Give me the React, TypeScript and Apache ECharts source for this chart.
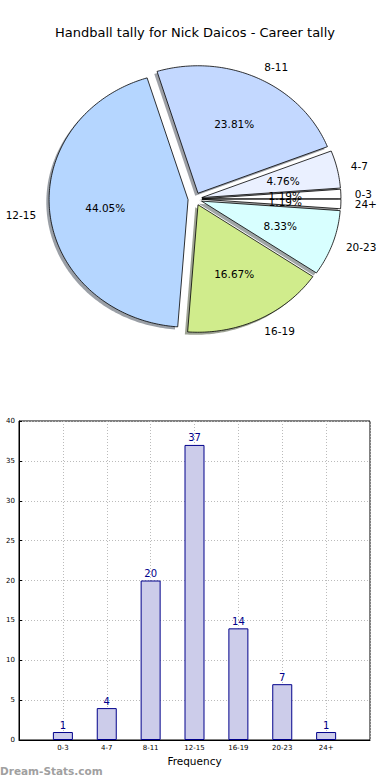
import React, { useEffect, useRef } from "react";
import * as echarts from "echarts";

const title = "Handball tally for Nick Daicos - Career tally";
const categories = ["0-3", "4-7", "8-11", "12-15", "16-19", "20-23", "24+"];
const handballs = [1, 4, 20, 37, 14, 7, 1];
const sliceColors = ["#ffffff", "#eaf0ff", "#c3d8ff", "#b5d6ff", "#d0ec8c", "#d8ffff", "#ffffff"];
const yTicks = [0, 5, 10, 15, 20, 25, 30, 35, 40];
const xAxisName = "Frequency";
const watermark = "Dream-Stats.com";

const FONT = "DejaVu Sans";

export default function App() {
  const ref = useRef<HTMLDivElement>(null);
  useEffect(() => {
    const chart = echarts.init(ref.current!, null, { renderer: "svg" });
    const total = handballs.reduce((a, b) => a + b, 0);
    const starts: number[] = [];
    let acc = 0;
    handballs.forEach((v) => {
      starts.push(acc);
      acc += v;
    });
    // pie geometry (elliptical, matplotlib style)
    const cx = 195, cy = 199, rx = 139, ry = 127.5, explode = 0.05;
    const deg = Math.PI / 180;

    const barCats = ["", ...categories, ""];
    const barData = [null, ...handballs, null];

    const option: any = {
      animation: false,
      title: {
        text: title,
        left: "center",
        top: 21,
        textStyle: { fontFamily: FONT, fontSize: 13, fontWeight: "normal", color: "#000" },
      },
      graphic: [
        {
          type: "text",
          left: 0,
          top: 765,
          style: { text: watermark, fontFamily: FONT, fontSize: 10.5, fontWeight: "bold", fill: "#a0a0a0" },
        },
      ],
      grid: { left: 19, right: 20, top: 421, bottom: 40, show: true, borderColor: "#000", borderWidth: 1 },
      xAxis: {
        type: "category",
        data: barCats,
        boundaryGap: false,
        name: xAxisName,
        nameLocation: "middle",
        nameGap: 15,
        nameTextStyle: { fontFamily: FONT, fontSize: 10.5, color: "#000" },
        axisLine: { lineStyle: { color: "#000" } },
        axisTick: { show: false },
        axisLabel: { fontFamily: FONT, fontSize: 7, color: "#000", margin: 4, interval: 0 },
        splitLine: { show: true, interval: 0, lineStyle: { color: "#bbb", type: [1, 2], width: 1 } },
      },
      yAxis: {
        type: "value",
        min: yTicks[0],
        max: yTicks[yTicks.length - 1],
        interval: 5,
        axisLine: { show: true, lineStyle: { color: "#000" } },
        axisTick: { show: true, inside: true, length: 3, lineStyle: { color: "#000" } },
        axisLabel: { fontFamily: FONT, fontSize: 7, color: "#000", margin: 4 },
        splitLine: { show: true, lineStyle: { color: "#bbb", type: [1, 2], width: 1 } },
      },
      series: [
        {
          type: "bar",
          data: barData,
          barWidth: 20,
          itemStyle: { color: "#ccccea", borderColor: "#00008b", borderWidth: 1 },
          label: {
            show: true,
            position: "top",
            distance: 2,
            fontFamily: FONT,
            fontSize: 10,
            color: "#00008b",
          },
        },
        {
          type: "custom",
          coordinateSystem: "none",
          data: handballs.map((v, i) => [i, v]),
          renderItem: (params: any, api: any) => {
            const i = params.dataIndex;
            const a0 = (starts[i] / total) * 360;
            const a1 = ((starts[i] + handballs[i]) / total) * 360;
            const am = ((a0 + a1) / 2) * deg;
            const ox = cx + explode * rx * Math.cos(am);
            const oy = cy - explode * ry * Math.sin(am);
            const pts: number[][] = [[ox, oy]];
            const n = Math.max(2, Math.ceil((a1 - a0) / 1));
            for (let k = 0; k <= n; k++) {
              const t = (a0 + ((a1 - a0) * k) / n) * deg;
              pts.push([ox + rx * Math.cos(t), oy - ry * Math.sin(t)]);
            }
            const shadowPts = pts.map((p) => [p[0] - 0.02 * rx, p[1] + 0.02 * ry]);
            const c = echarts.color.parse(sliceColors[i]);
            const shadowFill = `rgba(${Math.round(c[0] * 0.3)},${Math.round(c[1] * 0.3)},${Math.round(c[2] * 0.3)},0.5)`;
            const pct = ((handballs[i] / total) * 100).toFixed(2) + "%";
            const lx = ox + 1.1 * rx * Math.cos(am);
            const ly = oy - 1.1 * ry * Math.sin(am);
            const px = ox + 0.6 * rx * Math.cos(am);
            const py = oy - 0.6 * ry * Math.sin(am);
            return {
              type: "group",
              children: [
                { type: "polygon", z2: 0, shape: { points: shadowPts }, style: { fill: shadowFill, stroke: "none" } },
                {
                  type: "polygon",
                  z2: 10,
                  shape: { points: pts },
                  style: { fill: sliceColors[i], stroke: "#000", lineWidth: 0.8 },
                },
                {
                  type: "text",
                  z2: 20,
                  x: px,
                  y: py,
                  style: {
                    text: pct,
                    fontFamily: FONT,
                    fontSize: 10.5,
                    fill: "#000",
                    align: "center",
                    verticalAlign: "middle",
                  },
                },
                {
                  type: "text",
                  z2: 20,
                  x: lx,
                  y: ly,
                  style: {
                    text: categories[i],
                    fontFamily: FONT,
                    fontSize: 10.5,
                    fill: "#000",
                    align: Math.cos(am) > 0 ? "left" : "right",
                    verticalAlign: "middle",
                  },
                },
              ],
            };
          },
        },
      ],
    };
    chart.setOption(option);
    return () => chart.dispose();
  }, []);
  return <div ref={ref} style={{ width: 390, height: 780, position: "absolute", left: 0, top: 0, background: "#fff" }} />;
}
